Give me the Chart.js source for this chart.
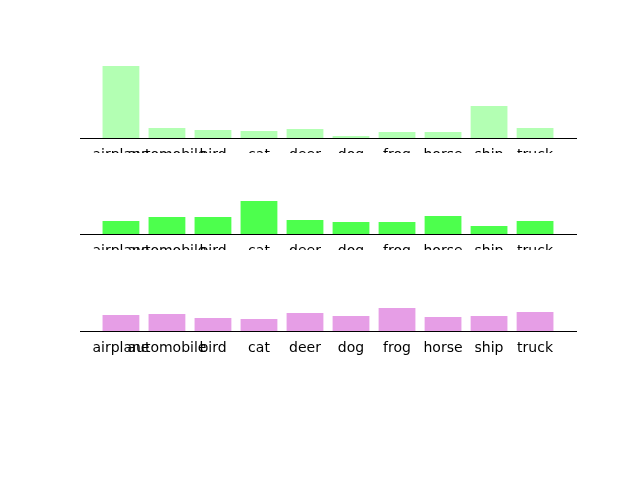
<!DOCTYPE html>
<html><head>
<script src="https://cdn.jsdelivr.net/npm/chart.js@4"></script>
<style>
body{margin:0;background:#fff;width:640px;height:480px;position:relative;overflow:hidden}
.p{position:absolute;left:0;width:640px;height:110px;background:#fff}
</style></head><body>
<div class="p" style="top:57px"><canvas id="c1"></canvas></div>
<div class="p" style="top:153px"><canvas id="c2"></canvas></div>
<div class="p" style="top:250px"><canvas id="c3"></canvas></div>
<script>
const categories=['airplane','automobile','bird','cat','deer','dog','frog','horse','ship','truck'];
const series1=[72,10,8,7,9,2,6,6,32,10];
const series2=[13,17,17,33,14,12,12,18,8,13];
const series3=[16,17,13,12,18,15,23,14,15,19];
const yMax=81;
function make(id,data,color){
  new Chart(document.getElementById(id),{type:'bar',
    data:{datasets:[{data:data.map((v,i)=>({x:i,y:v})),backgroundColor:color,barPercentage:0.8,categoryPercentage:1}]},
    options:{responsive:false,animation:false,devicePixelRatio:1,
      layout:{padding:{left:80,right:64,top:0,bottom:0}},
      plugins:{legend:{display:false},tooltip:{enabled:false}},
      scales:{
        x:{type:'linear',min:-0.89,max:9.89,offset:false,grid:{display:false,drawTicks:false},border:{display:true,color:'#000'},
           afterBuildTicks:s=>{s.ticks=categories.map((c,i)=>({value:i}));},
           ticks:{color:'#000',font:{family:'DejaVu Sans',size:14},maxRotation:0,autoSkip:false,padding:9,
             callback:v=>categories[v]},
           afterFit:s=>{s.height=29;}},
        y:{display:false,min:0,max:yMax}
      }}});
}
[['c1',series1,'#b3ffb3'],['c2',series2,'#4dff4d'],['c3',series3,'#e69ee6']].forEach(a=>{
  const c=document.getElementById(a[0]);c.width=640;c.height=110;make(a[0],a[1],a[2]);});
</script>
</body></html>
